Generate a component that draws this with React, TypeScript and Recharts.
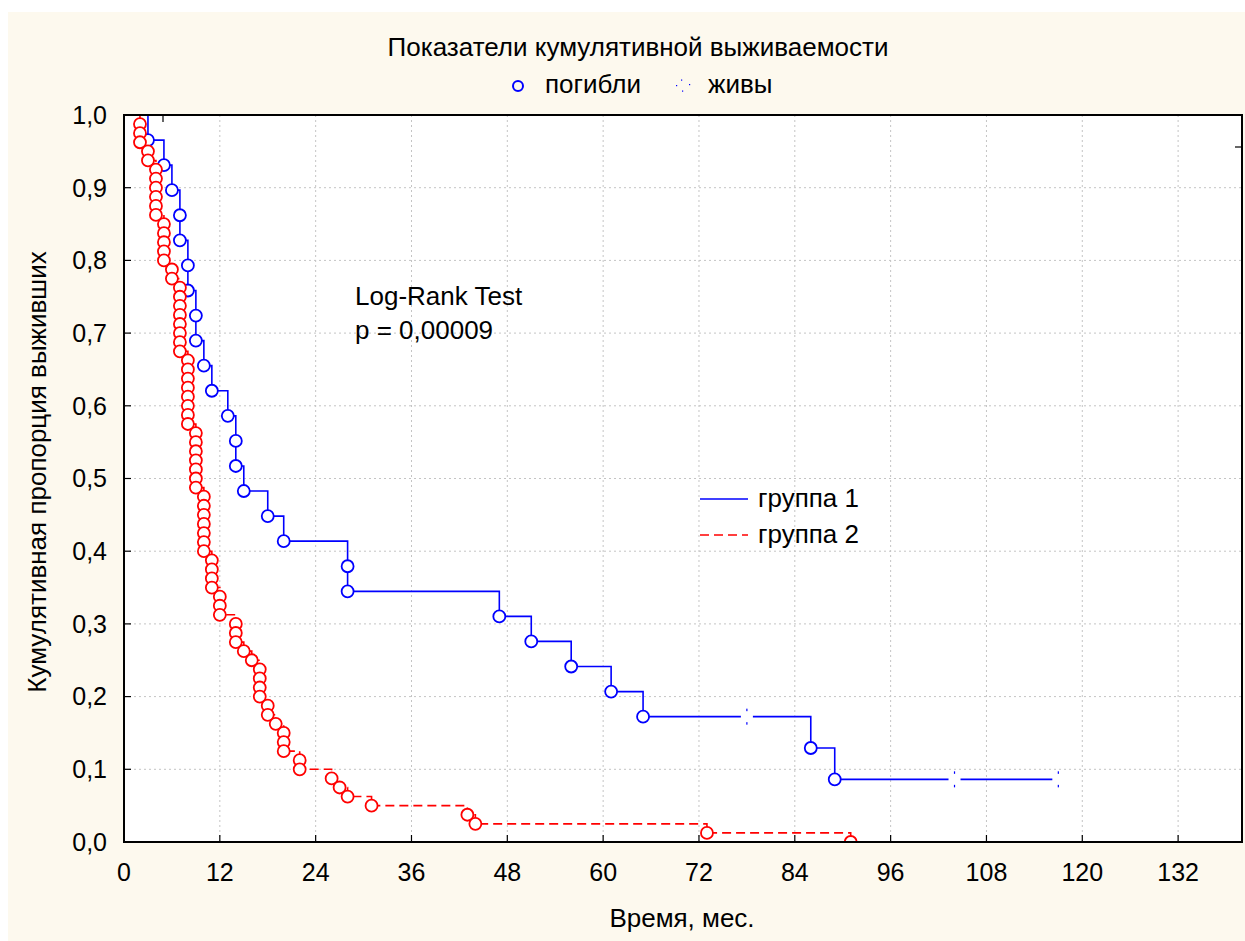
import React from "react";
import { LineChart, Line, XAxis, YAxis, CartesianGrid } from "recharts";

// group 1 (blue): time in months, survival proportion, event type (s = start, d = died, c = censored)
const group1Times = [0, 3, 5, 6, 7, 7, 8, 8, 9, 9, 10, 11, 13, 14, 14, 15, 18, 20, 28, 28, 47, 51, 56, 61, 65, 78, 86, 89, 104, 117];
const group1Surv = [
  1, 0.9655, 0.931, 0.8966, 0.8621, 0.8276, 0.7931, 0.7586, 0.7241, 0.6897, 0.6552, 0.6207, 0.5862, 0.5517,
  0.5172, 0.4828, 0.4483, 0.4138, 0.3793, 0.3448, 0.3103, 0.2759, 0.2414, 0.2069, 0.1724, 0.1724, 0.1293,
  0.0862, 0.0862, 0.0862,
];
const group1Status = [
  "s", "d", "d", "d", "d", "d", "d", "d", "d", "d", "d", "d", "d", "d", "d", "d", "d", "d", "d", "d",
  "d", "d", "d", "d", "d", "c", "d", "d", "c", "c",
];

// group 2 (red)
const group2Times = [
  0, 2, 2, 2, 3, 3, 4, 4, 4, 4, 4, 4, 5, 5, 5, 5, 5, 6, 6, 7, 7, 7, 7, 7, 7, 7, 7, 8, 8, 8, 8, 8, 8, 8, 8,
  9, 9, 9, 9, 9, 9, 9, 10, 10, 10, 10, 10, 10, 10, 11, 11, 11, 11, 12, 12, 12, 14, 14, 14, 15, 16,
  17, 17, 17, 17, 18, 18, 19, 20, 20, 20, 22, 22, 26, 27, 28, 31, 43, 44, 73, 91,
];
const group2Surv = [
  1, 0.9875, 0.975, 0.9625, 0.95, 0.9375, 0.925, 0.9125, 0.9, 0.8875, 0.875, 0.8625, 0.85, 0.8375, 0.825,
  0.8125, 0.8, 0.7875, 0.775, 0.7625, 0.75, 0.7375, 0.725, 0.7125, 0.7, 0.6875, 0.675, 0.6625, 0.65, 0.6375,
  0.625, 0.6125, 0.6, 0.5875, 0.575, 0.5625, 0.55, 0.5375, 0.525, 0.5125, 0.5, 0.4875, 0.475, 0.4625, 0.45,
  0.4375, 0.425, 0.4125, 0.4, 0.3875, 0.375, 0.3625, 0.35, 0.3375, 0.325, 0.3125, 0.3, 0.2875, 0.275,
  0.2625, 0.25, 0.2375, 0.225, 0.2125, 0.2, 0.1875, 0.175, 0.1625, 0.15, 0.1375, 0.125, 0.1125, 0.1,
  0.0875, 0.075, 0.0625, 0.05, 0.0375, 0.025, 0.0125, 0,
];

const xTicks = [0, 12, 24, 36, 48, 60, 72, 84, 96, 108, 120, 132];
const yTicks = [0, 0.1, 0.2, 0.3, 0.4, 0.5, 0.6, 0.7, 0.8, 0.9, 1];

const FONT = '"Liberation Sans", Arial, sans-serif';
const BLUE = "#0000ff";
const RED = "#ff0000";
const CREAM = "#fdf9ee";

const group1 = group1Times.map((t, i) => ({ t, s: group1Surv[i], status: group1Status[i] }));
const group2 = group2Times.map((t, i) => ({ t, s: group2Surv[i], status: i === 0 ? "s" : "d" }));

// circle for a death, small broken cross for a censored case
function makeDot(color: string) {
  return (props: any) => {
    const { cx, cy, payload, index } = props;
    if (cx == null || cy == null) return <g key={index} />;
    if (payload.status === "d") {
      return <circle key={index} cx={cx} cy={cy} r={6} fill="#fff" stroke={color} strokeWidth={1.8} />;
    }
    if (payload.status === "c") {
      return (
        <g key={index}>
          <rect x={cx - 6} y={cy - 2.5} width={12} height={5} fill="#fff" />
          <rect x={cx - 0.6} y={cy - 8} width={1.2} height={2.5} fill={color} />
          <rect x={cx - 0.6} y={cy + 5.5} width={1.2} height={2.5} fill={color} />
        </g>
      );
    }
    return <g key={index} />;
  };
}

const fmt = (v: number) => v.toFixed(1).replace(".", ",");

export default function App() {
  const textStyle = { fontFamily: FONT, fontSize: 26, fill: "#000" };
  return (
    <div style={{ position: "absolute", left: 0, top: 0, width: 1245, height: 941, background: "#fff" }}>
      <div style={{ position: "absolute", left: 8, top: 12, width: 1237, height: 929, background: CREAM }} />
      <div style={{ position: "absolute", left: 124, top: 115, width: 1118, height: 727, background: "#fff" }} />
      <div style={{ position: "absolute", left: 0, top: 0 }}>
        <LineChart width={1245} height={941} margin={{ top: 115, right: 3, left: 24, bottom: 59 }}>
          <CartesianGrid stroke="#c4c4c4" strokeDasharray="2 3" />
          <XAxis
            type="number"
            dataKey="t"
            domain={[0, 140]}
            ticks={xTicks}
            interval={0}
            height={40}
            axisLine={false}
            tickSize={-7}
            tickMargin={28}
            tickLine={{ stroke: "#000", strokeWidth: 1.2 }}
            tick={{ fill: "#000", fontSize: 25, fontFamily: FONT }}
            allowDataOverflow
          />
          <YAxis
            type="number"
            dataKey="s"
            domain={[0, 1]}
            ticks={yTicks}
            interval={0}
            width={100}
            axisLine={false}
            tickSize={-7}
            tickMargin={24}
            tickFormatter={fmt}
            tickLine={{ stroke: "#000", strokeWidth: 1.2 }}
            tick={{ fill: "#000", fontSize: 25, fontFamily: FONT }}
            allowDataOverflow
          />
          <Line
            data={group1}
            dataKey="s"
            type="stepAfter"
            stroke={BLUE}
            strokeWidth={1.6}
            dot={makeDot(BLUE)}
            activeDot={false}
            isAnimationActive={false}
          />
          <Line
            data={group2}
            dataKey="s"
            type="stepAfter"
            stroke={RED}
            strokeWidth={1.6}
            strokeDasharray="9 5"
            dot={makeDot(RED)}
            activeDot={false}
            isAnimationActive={false}
          />
        </LineChart>
      </div>
      <svg
        width={1245}
        height={941}
        style={{ position: "absolute", left: 0, top: 0, pointerEvents: "none" }}
      >
        <rect x={124} y={115} width={1118} height={727} fill="none" stroke="#000" strokeWidth={2} />
        <line x1={163} y1={115} x2={163} y2={122} stroke="#000" strokeWidth={1.2} />
        <line x1={1235} y1={147} x2={1242} y2={147} stroke="#000" strokeWidth={1.2} />
        <text x={638} y={56} textAnchor="middle" style={textStyle}>
          Показатели кумулятивной выживаемости
        </text>
        <circle cx={518} cy={86} r={5} fill="none" stroke={BLUE} strokeWidth={2} />
        <text x={545} y={93} style={textStyle}>погибли</text>
        <rect x={681} y={79.5} width={1.2} height={1.2} fill={BLUE} />
        <rect x={676} y={85} width={1.2} height={1.2} fill={BLUE} />
        <rect x={689} y={84} width={1.2} height={1.2} fill={BLUE} />
        <rect x={682} y={90.5} width={1.2} height={1.2} fill={BLUE} />
        <text x={708} y={93} style={textStyle}>живы</text>
        <text x={355} y={305} style={textStyle}>Log-Rank Test</text>
        <text x={355} y={339} style={textStyle}>p = 0,00009</text>
        <line x1={700} y1={499} x2={748} y2={499} stroke={BLUE} strokeWidth={1.6} />
        <text x={758} y={507} style={textStyle}>группа 1</text>
        <line x1={700} y1={535} x2={748} y2={535} stroke={RED} strokeWidth={1.6} strokeDasharray="9 5" />
        <text x={758} y={543} style={textStyle}>группа 2</text>
        <text x={682} y={927} textAnchor="middle" style={textStyle}>Время, мес.</text>
        <text x={46} y={472} textAnchor="middle" transform="rotate(-90 46 472)" style={textStyle}>
          Кумулятивная пропорция выживших
        </text>
      </svg>
    </div>
  );
}
